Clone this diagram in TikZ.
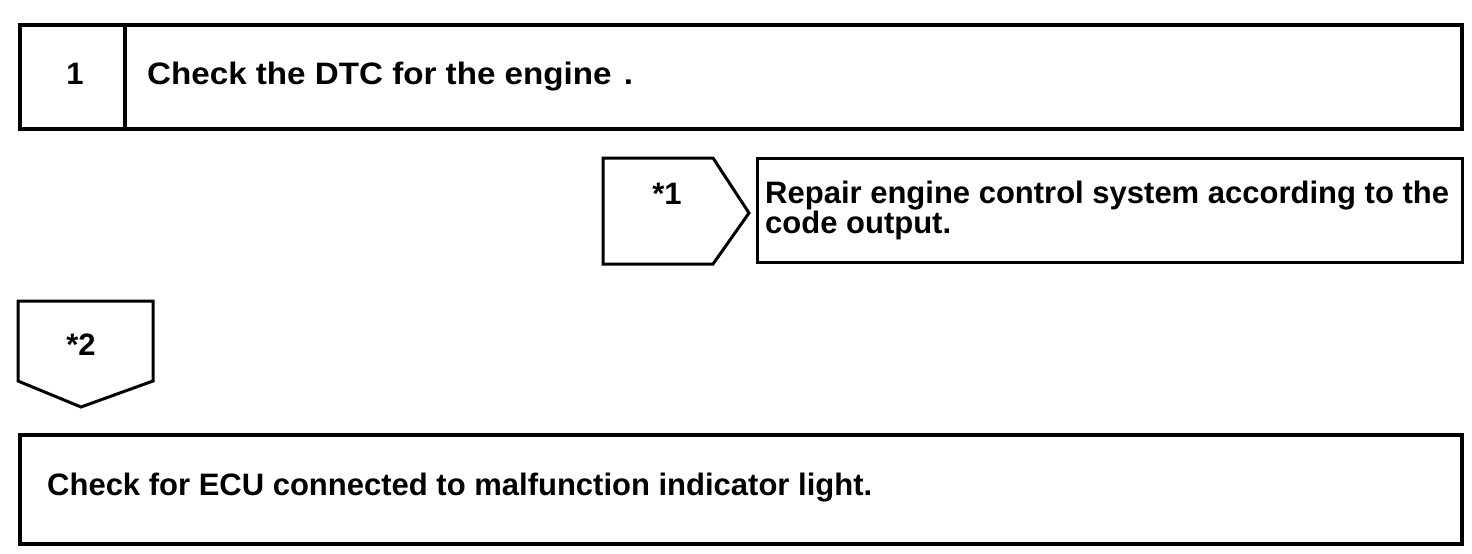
\documentclass[tikz,border=0pt]{standalone}
\usepackage{fontspec}
\setmainfont{Liberation Sans}
\newfontfamily\widesans[FakeStretch=1.07]{Liberation Sans}
\usepackage{tikz}
\usetikzlibrary{positioning, calc}
\tikzset{
  stepbox/.style={rectangle, draw=black, line width=3.6pt, anchor=north west, inner sep=0pt},
  resbox/.style={rectangle, draw=black, line width=2.8pt, anchor=north west, inner sep=0pt},
  tagframe/.style={draw=black, line width=3pt, line join=miter},
  boxtext/.style={font=\bfseries\fontsize{31}{30}\selectfont, inner sep=0pt},
  tagtext/.style={font=\bfseries\fontsize{31}{30}\selectfont, inner sep=0pt}
}

\begin{document}
\begin{tikzpicture}[x=1pt, y=-1pt]
  \useasboundingbox (0,0) rectangle (1472,554);

  % Step 1
  \node[stepbox, minimum width=1442pt, minimum height=104pt] (step1) at (18,23) {};
  \draw[line width=3.6pt] ($(step1.north west)+(107,0)$) -- ($(step1.south west)+(107,0)$);
  \node[tagtext] (step1num) at (75,74) {1};
  \node[boxtext, font=\widesans\bfseries\fontsize{31}{30}\selectfont, anchor=base west] (step1txt)
    at (147,84) {Check the DTC for the engine\hspace{0.4em}.};

  % Branch *1
  \draw[tagframe] (603,158) coordinate (tag1nw) -- (713,158) -- (749,213) coordinate (tag1tip)
    -- (713,264) -- (603,264) -- cycle;
  \node[tagtext] (tag1) at (667,194) {*1};
  \node[resbox, minimum width=705pt, minimum height=104pt] (repair) at (756,157) {};
  \node[boxtext, anchor=base west] (repairtxt) at (765,203)
    {\vtop{\hbox{Repair engine control system according to the}\hbox{code output.}}};

  % Branch *2
  \draw[tagframe] (18,301) coordinate (tag2nw) -- (153,301) -- (153,381)
    -- (81,407) coordinate (tag2tip) -- (18,381) -- cycle;
  \node[tagtext] (tag2) at (81,345) {*2};

  % Step 2
  \node[stepbox, minimum width=1442pt, minimum height=109pt] (step2) at (18,433) {};
  \node[boxtext, anchor=base west] (step2txt) at (47,495) {Check for ECU connected to malfunction indicator light.};
\end{tikzpicture}
\end{document}
